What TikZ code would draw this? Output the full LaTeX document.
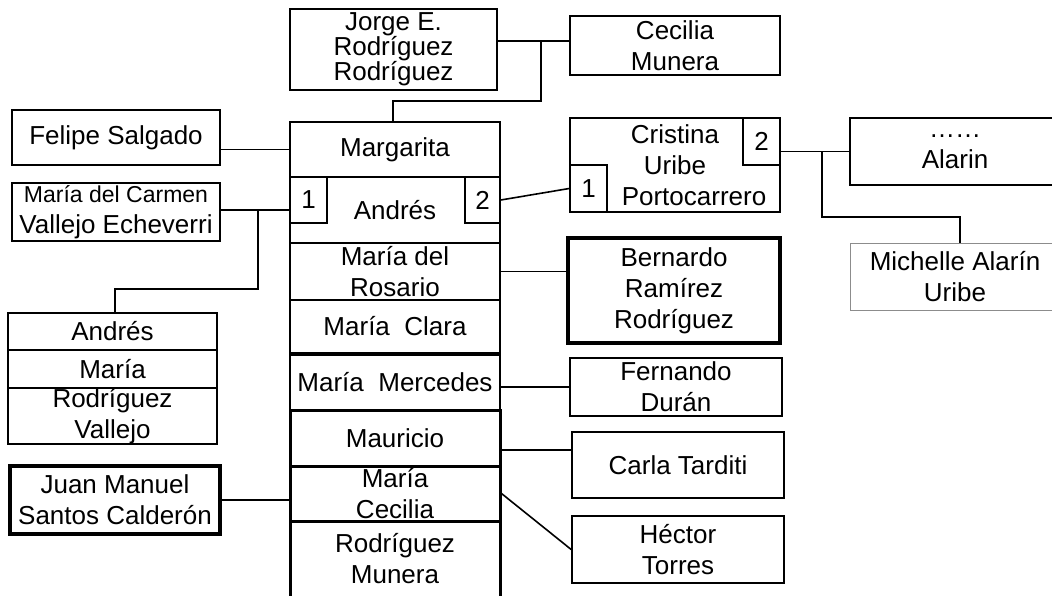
\documentclass[tikz,border=0pt]{standalone}
\usepackage{fontspec}
\setmainfont{Liberation Sans}
\usetikzlibrary{positioning,calc}

\tikzset{
  person/.style={draw, line width=1.6pt, inner sep=0pt, align=center,
    font=\fontsize{26}{31}\selectfont},
  heavy/.style={person, line width=3pt},
  heavier/.style={person, line width=4pt},
  numbox/.style={draw, line width=1.6pt, inner sep=0pt,
    minimum width=37pt, minimum height=46pt, font=\fontsize{26}{31}\selectfont},
  link/.style={line width=1.6pt}
}

\begin{document}
\begin{tikzpicture}[x=1pt, y=-1pt]
  \useasboundingbox (0,0) rectangle (1052,595);

  % Parents
  \node[person, minimum width=207pt, minimum height=81pt,
    font=\fontsize{26}{25}\selectfont] (jorge) at (393.5,49.5) {Jorge E.\\Rodríguez\\Rodríguez};
  \node[person, minimum width=210pt, minimum height=59pt] (cecilia) at (675,45.5) {Cecilia\\Munera};

  % Central column of children
  \node[person, minimum width=210pt, minimum height=55pt] (marg) at (395,149.5) {Margarita};
  \node[person, minimum width=210pt, minimum height=66pt] (andres) at (395,210) {\raisebox{-8pt}{Andrés}};
  \node[numbox, anchor=north west] (a1) at (andres.north west) {1};
  \node[numbox, anchor=north east, minimum width=35pt] (a2) at (andres.north east) {2};
  \node[person, minimum width=210pt, minimum height=57pt] (rosario) at (395,271.5) {María del\\Rosario};
  \node[person, minimum width=210pt, minimum height=53pt] (clara) at (395,326.5) {María\ \ Clara};
  \node[person, minimum width=210pt, minimum height=55pt] (merc) at (395,382.5) {María\ \ Mercedes};
  \node[heavy, minimum width=210pt, minimum height=56pt] (maur) at (395,438) {Mauricio};
  \node[heavy, minimum width=210pt, minimum height=55pt] (ceci) at (395,493.5) {María\\Cecilia};
  \node[heavy, minimum width=210pt, minimum height=76pt] (rmun) at (395,559) {Rodríguez\\Munera};

  % Spouses on the left
  \node[person, minimum width=208pt, minimum height=55pt] (felipe) at (116,137.5) {Felipe Salgado};
  \node[person, minimum width=208pt, minimum height=58pt] (carmen) at (116,212)
    {{\fontsize{23}{26}\selectfont María del Carmen}\\Vallejo Echeverri};
  \node[heavier, minimum width=210pt, minimum height=68pt] (juan) at (115,500) {Juan Manuel\\Santos Calderón};

  % Grandchild
  \node[person, minimum width=209pt, minimum height=37pt] (kid1) at (112.5,331.5) {Andrés};
  \node[person, minimum width=209pt, minimum height=38pt] (kid2) at (112.5,369) {María};
  \node[person, minimum width=209pt, minimum height=56pt] (kid3) at (112.5,416) {Rodríguez\\Vallejo};

  % Spouses on the right
  \node[person, minimum width=210pt, minimum height=94pt] (cristina) at (675,165)
    {Cristina\\Uribe\\\hspace*{38pt}Portocarrero};
  \node[numbox, anchor=north east, minimum height=47pt] (c2) at (cristina.north east) {2};
  \node[numbox, anchor=south west, minimum height=47pt] (c1) at (cristina.south west) {1};
  \node[heavier, minimum width=212pt, minimum height=105pt] (bern) at (674,290.5) {Bernardo\\Ramírez\\Rodríguez};
  \node[person, minimum width=212pt, minimum height=58pt] (fern) at (676,387) {Fernando\\Durán};
  \node[person, minimum width=212pt, minimum height=66pt] (carla) at (678,465) {Carla Tarditi};
  \node[person, minimum width=212pt, minimum height=67pt] (hector) at (678,549.5) {Héctor\\Torres};

  % Far right
  \node[person, minimum width=210pt, minimum height=67pt] (alarin) at (955,151.5) {……\\Alarin};
  \node[person, draw=black!45, line width=1pt, minimum width=210pt, minimum height=67pt] (mich) at (955,276.5) {Michelle Alarín\\Uribe};

  % Connectors
  \coordinate (jc) at (541,41);
  \coordinate (jm) at (393,101);
  \draw[link] (jorge.east |- jc) -- (cecilia.west |- jc);
  \draw[link] (jc) |- (jm) -- (jm |- marg.north);

  \draw[link] (marg.west) -- (marg.west -| felipe.east);
  \draw[link] (carmen.east |- andres.west) -- (andres.west);
  \coordinate (cv) at (258,210);
  \coordinate (kd) at (115,289);
  \draw[link] (cv) |- (kd) -- (kd |- kid1.north);

  \draw[link] (a2.east) -- (c1.west);
  \draw[link] (alarin.west -| c2.east) -- (alarin.west);
  \coordinate (cv2) at (822,151.5);
  \coordinate (md) at (960,217);
  \draw[link] (cv2) |- (md) -- (md |- mich.north);

  \draw[link] (rosario.east) -- (rosario.east -| bern.west);
  \draw[link] (fern.west -| merc.east) -- (fern.west);
  \coordinate (mc) at (540,450);
  \draw[link] (maur.east |- mc) -- (carla.west |- mc);
  \draw[link] (ceci.east) -- (hector.west);
  \draw[link] (juan.east) -- (juan.east -| ceci.west);
\end{tikzpicture}
\end{document}
